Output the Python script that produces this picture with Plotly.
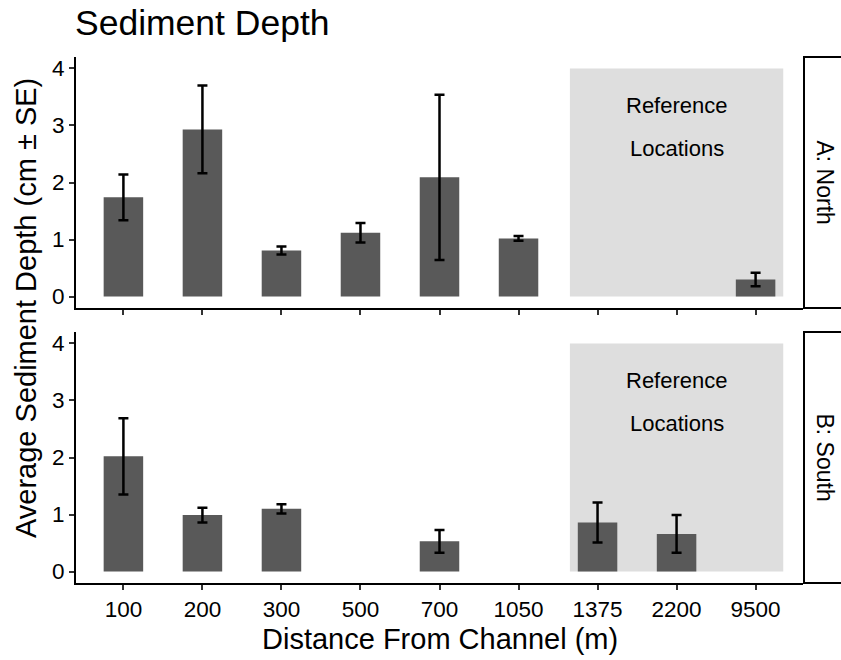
import plotly.graph_objects as go

categories = ["100", "200", "300", "500", "700", "1050", "1375", "2200", "9500"]

north_depth = [1.74, 2.93, 0.81, 1.12, 2.09, 1.02, None, None, 0.30]
north_se = [0.40, 0.77, 0.07, 0.17, 1.45, 0.04, None, None, 0.12]

south_depth = [2.02, 0.99, 1.10, None, 0.53, None, 0.86, 0.66, None]
south_se = [0.67, 0.13, 0.08, None, 0.20, None, 0.35, 0.33, None]

y_ticks = [0, 1, 2, 3, 4]
panel_labels = ["A: North", "B: South"]
ref_box_x = [5.65, 8.35]
ref_box_y = [0, 4]
ref_text = ["Reference", "Locations"]
ref_text_y = [3.35, 2.6]

FONT = "Liberation Sans, Arial, sans-serif"
BAR = "#595959"

W, H = 841, 660
L, R, T, B = 76, 38, 57, 77
plot_h = H - T - B
plot_w = W - L - R
top_dom = [(583 - 308) / plot_h, 1.0]
bot_dom = [0.0, (583 - 332) / plot_h]

fig = go.Figure()

for depth, se, xa, ya in [(north_depth, north_se, "x", "y"), (south_depth, south_se, "x2", "y2")]:
    fig.add_trace(go.Bar(
        x=categories, y=depth, width=0.5, xaxis=xa, yaxis=ya,
        marker=dict(color=BAR, line=dict(width=0)),
        error_y=dict(type="data", array=se, visible=True, color="black",
                     thickness=2.5, width=5),
        showlegend=False,
    ))

axis_common = dict(
    showline=True, linecolor="black", linewidth=2, mirror=False,
    ticks="outside", ticklen=5, tickwidth=2, tickcolor="#333333",
    showgrid=False, zeroline=False,
    tickfont=dict(family=FONT, size=22.5, color="black"),
)

fig.update_layout(
    width=W, height=H,
    margin=dict(l=L, r=R, t=T, b=B, pad=0),
    paper_bgcolor="white", plot_bgcolor="white",
    bargap=0.5,
    xaxis=dict(domain=[0, 1], anchor="y", type="category",
               categoryorder="array", categoryarray=categories,
               range=[-0.6, 8.6], showticklabels=False, **axis_common),
    xaxis2=dict(domain=[0, 1], anchor="y2", type="category",
                categoryorder="array", categoryarray=categories,
                range=[-0.6, 8.6], **axis_common),
    yaxis=dict(domain=top_dom, anchor="x", range=[-0.2, 4.2],
               tickvals=y_ticks, **axis_common),
    yaxis2=dict(domain=bot_dom, anchor="x2", range=[-0.2, 4.2],
                tickvals=y_ticks, **axis_common),
)

shapes = []
annotations = []
for xr, yr, doms, label in [("x", "y", top_dom, panel_labels[0]), ("x2", "y2", bot_dom, panel_labels[1])]:
    shapes.append(dict(type="rect", xref=xr, yref=yr,
                       x0=ref_box_x[0], x1=ref_box_x[1], y0=ref_box_y[0], y1=ref_box_y[1],
                       fillcolor="#DEDEDE", line=dict(width=0), layer="below"))
    for t, ty in zip(ref_text, ref_text_y):
        annotations.append(dict(xref=xr, yref=yr, x=7, y=ty, text=t, showarrow=False,
                                font=dict(family=FONT, size=22, color="black"),
                                xanchor="center", yanchor="middle"))
    # strip box
    shapes.append(dict(type="rect", xref="paper", yref="paper",
                       x0=(804 - L) / plot_w, x1=1.2, y0=doms[0], y1=doms[1],
                       fillcolor="white", line=dict(color="black", width=2)))
    annotations.append(dict(xref="paper", yref="paper", x=(825 - L) / plot_w,
                            y=(doms[0] + doms[1]) / 2, text=label, textangle=90,
                            showarrow=False, xanchor="center", yanchor="middle",
                            font=dict(family=FONT, size=23, color="black")))

# titles
annotations.append(dict(xref="paper", yref="paper", x=(73 - L) / plot_w, y=(583 - 22.5) / plot_h,
                        text="Sediment Depth", showarrow=False, xanchor="left", yanchor="middle",
                        font=dict(family=FONT, size=35.5, color="black")))
annotations.append(dict(xref="paper", yref="paper", x=0.5, y=(583 - 639) / plot_h,
                        text="Distance From Channel (m)", showarrow=False,
                        xanchor="center", yanchor="middle",
                        font=dict(family=FONT, size=29, color="black")))
annotations.append(dict(xref="paper", yref="paper", x=(26 - L) / plot_w, y=(583 - 308) / plot_h,
                        text="Average Sediment Depth (cm ± SE)", showarrow=False, textangle=-90,
                        xanchor="center", yanchor="middle",
                        font=dict(family=FONT, size=29, color="black")))

fig.update_layout(shapes=shapes, annotations=annotations)

fig.write_html("out.html")
